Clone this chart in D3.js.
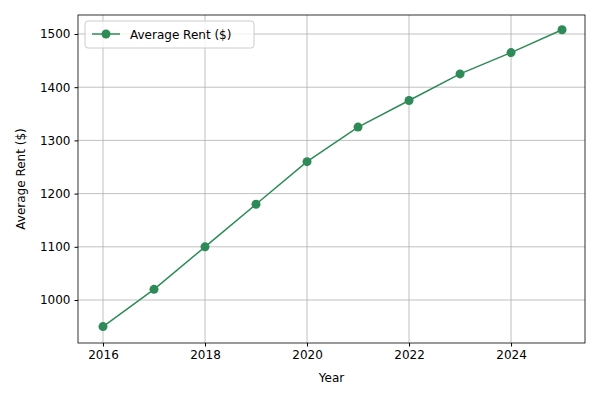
<!DOCTYPE html>
<html><head><meta charset="utf-8">
<script src="https://cdn.jsdelivr.net/npm/d3@7"></script>
<style>body{margin:0;background:#fff}svg{font-family:"DejaVu Sans",sans-serif}</style>
</head><body><svg id="c" width="600" height="400"></svg>
<script>
const years = [2016, 2017, 2018, 2019, 2020, 2021, 2022, 2023, 2024, 2025];
const rent = [950, 1020, 1100, 1180, 1260, 1325, 1375, 1425, 1465, 1508];
const xTicks = [2016, 2018, 2020, 2022, 2024];
const yTicks = [1000, 1100, 1200, 1300, 1400, 1500];
const color = '#2e8b57';

const svg = d3.select('#c');
const m = { left: 78, right: 585, top: 15, bottom: 343 };
const x = d3.scaleLinear().domain([2015.51, 2025.45]).range([m.left, m.right]);
const y = d3.scaleLinear().domain([919.2, 1535.7]).range([m.bottom, m.top]);

// grid
svg.append('g').selectAll('line').data(xTicks).join('line')
  .attr('x1', d => x(d)).attr('x2', d => x(d)).attr('y1', m.top).attr('y2', m.bottom)
  .attr('stroke', '#b0b0b0').attr('stroke-width', 0.8);
svg.append('g').selectAll('line').data(yTicks).join('line')
  .attr('y1', d => y(d)).attr('y2', d => y(d)).attr('x1', m.left).attr('x2', m.right)
  .attr('stroke', '#b0b0b0').attr('stroke-width', 0.8);

// axes
const xa = svg.append('g').attr('transform', `translate(0,${m.bottom})`)
  .call(d3.axisBottom(x).tickValues(xTicks).tickFormat(d3.format('d')).tickSize(3.5).tickPadding(4));
const ya = svg.append('g').attr('transform', `translate(${m.left},0)`)
  .call(d3.axisLeft(y).tickValues(yTicks).tickFormat(d3.format('d')).tickSize(3.5).tickPadding(4));
[xa, ya].forEach(a => {
  a.selectAll('text').attr('font-size', 12).attr('fill', '#000').attr('font-family', 'DejaVu Sans');
  a.select('.domain').remove();
});
svg.append('rect').attr('x', m.left).attr('y', m.top).attr('width', m.right - m.left)
  .attr('height', m.bottom - m.top).attr('fill', 'none').attr('stroke', '#000').attr('stroke-width', 0.8);

svg.append('text').attr('x', (m.left + m.right) / 2).attr('y', 382).attr('text-anchor', 'middle')
  .attr('font-size', 12).text('Year');
svg.append('text').attr('transform', `translate(25,${(m.top + m.bottom) / 2}) rotate(-90)`)
  .attr('text-anchor', 'middle').attr('font-size', 12).text('Average Rent ($)');

// line + points
svg.append('path').datum(years.map((d, i) => [d, rent[i]]))
  .attr('d', d3.line().x(d => x(d[0])).y(d => y(d[1])))
  .attr('fill', 'none').attr('stroke', color).attr('stroke-width', 1.5);
svg.append('g').selectAll('circle').data(years).join('circle')
  .attr('cx', d => x(d)).attr('cy', (d, i) => y(rent[i])).attr('r', 4.5).attr('fill', color);

// legend
const lg = svg.append('g');
lg.append('rect').attr('x', 85).attr('y', 21).attr('width', 169).attr('height', 27).attr('rx', 3)
  .attr('fill', '#fff').attr('fill-opacity', 0.8).attr('stroke', '#ccc');
lg.append('line').attr('x1', 92).attr('x2', 120).attr('y1', 34).attr('y2', 34)
  .attr('stroke', color).attr('stroke-width', 1.5);
lg.append('circle').attr('cx', 106).attr('cy', 34).attr('r', 4.5).attr('fill', color);
lg.append('text').attr('x', 130).attr('y', 38.5).attr('font-size', 12).text('Average Rent ($)');
</script></body></html>
